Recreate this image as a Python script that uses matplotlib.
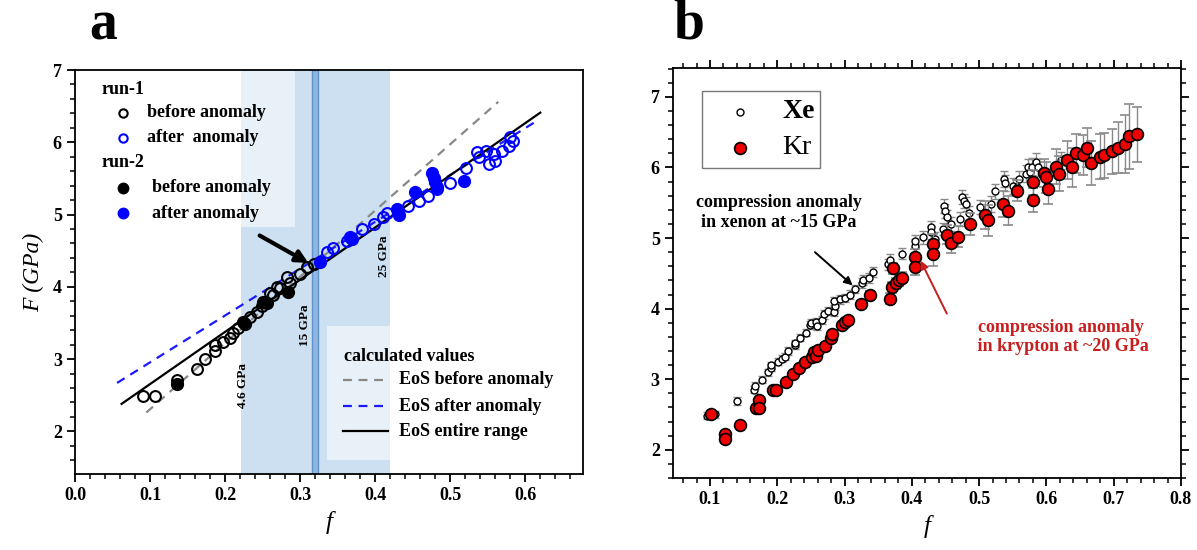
import matplotlib
matplotlib.use("Agg")
import matplotlib.pyplot as plt
from matplotlib.patches import Rectangle
from matplotlib.ticker import MultipleLocator

plt.rcParams['font.family'] = ['Liberation Serif', 'DejaVu Serif']
plt.rcParams['font.weight'] = 'bold'

# ---------------- panel a data ----------------
r1_before_f = [0.091, 0.107, 0.136, 0.162, 0.173, 0.187, 0.187, 0.197, 0.207, 0.211, 0.217,
               0.233, 0.242, 0.249, 0.260, 0.264, 0.269, 0.273, 0.282, 0.287, 0.300, 0.309, 0.318]
r1_before_F = [2.49, 2.49, 2.71, 2.86, 3.00, 3.11, 3.20, 3.24, 3.29, 3.36, 3.43,
               3.58, 3.65, 3.74, 3.91, 3.88, 4.00, 3.98, 4.13, 4.05, 4.18, 4.27, 4.32]
r1_after_f = [0.336, 0.344, 0.362, 0.382, 0.398, 0.410, 0.416, 0.444, 0.458, 0.471, 0.482,
              0.500, 0.521, 0.536, 0.538, 0.547, 0.551, 0.558, 0.560, 0.569, 0.578, 0.580, 0.584]
r1_after_F = [4.48, 4.54, 4.64, 4.80, 4.87, 4.96, 5.02, 5.12, 5.19, 5.26, 5.35,
              5.43, 5.65, 5.86, 5.79, 5.88, 5.70, 5.84, 5.74, 5.88, 5.95, 6.07, 6.02]
r2_before_f = [0.136, 0.224, 0.226, 0.251, 0.256, 0.284]
r2_before_F = [2.65, 3.51, 3.48, 3.79, 3.77, 3.93]
r2_after_f = [0.327, 0.367, 0.369, 0.429, 0.432, 0.453, 0.476, 0.478, 0.480, 0.482, 0.518]
r2_after_F = [4.34, 4.69, 4.66, 5.08, 4.99, 5.31, 5.58, 5.51, 5.45, 5.38, 5.47]

# EoS lines (end points)
eos_before_f = [0.095, 0.564]
eos_before_F = [2.26, 6.56]
eos_after_f = [0.056, 0.616]
eos_after_F = [2.67, 6.30]
eos_all_f = [0.062, 0.620]
eos_all_F = [2.38, 6.41]

span_range = [0.221, 0.420]
band_range = [0.316, 0.324]
pressure_f = [0.224, 0.307, 0.412]
pressure_F = [2.64, 3.47, 4.43]
pressure_labels = ['4.6 GPa', '15 GPa', '25 GPa']

# ---------------- panel b data ----------------
xe_f = [0.095, 0.108, 0.140, 0.165, 0.167, 0.177, 0.187, 0.190, 0.191, 0.201, 0.207, 0.211,
        0.216, 0.226, 0.227, 0.234, 0.242, 0.248, 0.250, 0.257, 0.259, 0.266, 0.269, 0.276,
        0.285, 0.286, 0.285, 0.293, 0.301, 0.308, 0.316, 0.326, 0.328, 0.336, 0.343, 0.364,
        0.368, 0.385, 0.404, 0.404, 0.417, 0.428, 0.429, 0.434, 0.447, 0.448, 0.450, 0.452,
        0.458, 0.471, 0.475, 0.477, 0.480, 0.485, 0.501, 0.518, 0.523, 0.537, 0.539, 0.550,
        0.559, 0.557, 0.569, 0.573, 0.575, 0.578, 0.584, 0.587, 0.622]
xe_F = [2.48, 2.50, 2.69, 2.85, 2.91, 2.99, 3.10, 3.16, 3.20, 3.25, 3.29, 3.32,
        3.40, 3.48, 3.51, 3.59, 3.66, 3.77, 3.79, 3.81, 3.76, 3.84, 3.92, 3.97,
        3.95, 4.04, 4.11, 4.13, 4.15, 4.20, 4.28, 4.36, 4.40, 4.44, 4.52, 4.63,
        4.69, 4.78, 4.89, 4.96, 5.01, 5.15, 5.08, 4.99, 5.13, 5.45, 5.38, 5.30,
        5.20, 5.27, 5.58, 5.53, 5.48, 5.35, 5.44, 5.48, 5.66, 5.84, 5.78, 5.74,
        5.84, 5.73, 5.91, 6.00, 5.93, 6.01, 6.08, 6.00, 6.10]
xe_err = [0.05, 0.05, 0.06, 0.05, 0.05, 0.05, 0.05, 0.05, 0.05, 0.05, 0.05, 0.05,
          0.05, 0.05, 0.05, 0.05, 0.05, 0.06, 0.06, 0.06, 0.06, 0.06, 0.06, 0.06,
          0.06, 0.06, 0.06, 0.06, 0.06, 0.06, 0.06, 0.07, 0.07, 0.07, 0.07, 0.08,
          0.08, 0.08, 0.09, 0.09, 0.09, 0.09, 0.09, 0.09, 0.09, 0.10, 0.10, 0.10,
          0.10, 0.10, 0.10, 0.10, 0.10, 0.10, 0.10, 0.11, 0.11, 0.11, 0.11, 0.11,
          0.11, 0.11, 0.12, 0.12, 0.12, 0.12, 0.12, 0.12, 0.12]

kr_f = [0.101, 0.122, 0.122, 0.145, 0.168, 0.173, 0.173, 0.193, 0.198, 0.213, 0.223, 0.233,
        0.241, 0.251, 0.254, 0.257, 0.260, 0.271, 0.280, 0.282, 0.296, 0.300, 0.305, 0.325,
        0.338, 0.368, 0.370, 0.372, 0.376, 0.381, 0.386, 0.405, 0.405, 0.432, 0.432, 0.452,
        0.458, 0.468, 0.487, 0.509, 0.513, 0.535, 0.543, 0.557, 0.580, 0.580, 0.596, 0.600,
        0.602, 0.615, 0.618, 0.631, 0.638, 0.644, 0.654, 0.660, 0.667, 0.679, 0.685, 0.697,
        0.707, 0.717, 0.723, 0.734]
kr_F = [2.51, 2.23, 2.15, 2.35, 2.59, 2.70, 2.59, 2.84, 2.85, 2.96, 3.08, 3.16,
        3.24, 3.32, 3.38, 3.33, 3.41, 3.47, 3.58, 3.64, 3.77, 3.81, 3.84, 4.06,
        4.20, 4.14, 4.30, 4.57, 4.36, 4.40, 4.44, 4.73, 4.59, 4.91, 4.78, 5.05,
        4.93, 5.02, 5.20, 5.33, 5.25, 5.48, 5.39, 5.67, 5.79, 5.54, 5.92, 5.86,
        5.70, 6.01, 5.91, 6.11, 6.00, 6.20, 6.18, 6.28, 6.06, 6.15, 6.17, 6.23,
        6.28, 6.33, 6.44, 6.47]
kr_err = [0.04, 0.04, 0.04, 0.04, 0.04, 0.04, 0.04, 0.04, 0.04, 0.04, 0.04, 0.04,
          0.04, 0.04, 0.04, 0.04, 0.04, 0.04, 0.04, 0.04, 0.04, 0.04, 0.04, 0.05,
          0.05, 0.08, 0.08, 0.08, 0.08, 0.08, 0.08, 0.12, 0.12, 0.15, 0.17, 0.14,
          0.14, 0.15, 0.16, 0.20, 0.22, 0.18, 0.20, 0.15, 0.18, 0.17, 0.20, 0.22,
          0.22, 0.25, 0.25, 0.27, 0.27, 0.28, 0.28, 0.28, 0.31, 0.32, 0.32, 0.32,
          0.36, 0.41, 0.46, 0.39]

RED = '#c81e1e'

fig = plt.figure(figsize=(11.97, 5.5), dpi=100)
ax_a = fig.add_axes([0.0627, 0.1382, 0.4244, 0.7345])
ax_b = fig.add_axes([0.5622, 0.1309, 0.4244, 0.7455])

# ================= panel a =================
ax = ax_a
ax.axvspan(span_range[0], span_range[1], color='#cde0f1', lw=0, zorder=0)
ax.axvspan(band_range[0], band_range[1], facecolor='#8fb5e0', edgecolor='#5f93cc', lw=1, zorder=1)

# legend backgrounds (semi-transparent white boxes)
ax.add_patch(Rectangle((0.02, 0.611), 0.413, 0.389, transform=ax.transAxes,
                       facecolor='white', alpha=0.55, lw=0, zorder=2))
ax.add_patch(Rectangle((0.496, 0.035), 0.47, 0.331, transform=ax.transAxes,
                       facecolor='white', alpha=0.55, lw=0, zorder=2))

ax.plot(eos_before_f, eos_before_F, color='#888888', ls=(0, (4, 3)), lw=1.6, zorder=3)
ax.plot(eos_after_f, eos_after_F, color='#1a1aff', ls=(0, (4, 3)), lw=1.6, zorder=3)
ax.plot(eos_all_f, eos_all_F, color='black', lw=1.6, zorder=3)

ax.plot(r1_before_f, r1_before_F, 'o', ms=7.8, mfc='none', mec='black', mew=1.5, zorder=4)
ax.plot(r1_after_f, r1_after_F, 'o', ms=7.8, mfc='none', mec='#0000ff', mew=1.5, zorder=4)
ax.plot(r2_before_f, r2_before_F, 'o', ms=8.5, color='black', zorder=5)
ax.plot(r2_after_f, r2_after_F, 'o', ms=8.5, color='#0000ff', zorder=5)

for pf, pF, lab in zip(pressure_f, pressure_F, pressure_labels):
    ax.text(pf, pF, lab, rotation=90, ha='center', va='center', fontsize=9.5,
            fontweight='bold', zorder=6)

ax.annotate('', xy=(0.311, 4.33), xytext=(0.246, 4.71),
            arrowprops=dict(arrowstyle='-|>', color='black', lw=3, mutation_scale=18,
                            shrinkA=0, shrinkB=0), zorder=6)

# legend run-1 / run-2
tr = ax.transAxes
ax.text(0.053, 0.953, 'run-1', transform=tr, fontsize=13, va='center', zorder=6)
ax.plot([0.0945], [0.894], 'o', transform=tr, ms=6, mfc='none', mec='black', mew=1.5, zorder=6)
ax.text(0.142, 0.894, 'before anomaly', transform=tr, fontsize=13, va='center', zorder=6)
ax.plot([0.0945], [0.832], 'o', transform=tr, ms=6, mfc='none', mec='#0000ff', mew=1.5, zorder=6)
ax.text(0.142, 0.832, 'after  anomaly', transform=tr, fontsize=13, va='center', zorder=6)
ax.text(0.053, 0.770, 'run-2', transform=tr, fontsize=13, va='center', zorder=6)
ax.plot([0.0945], [0.708], 'o', transform=tr, ms=7.5, color='black', zorder=6)
ax.text(0.152, 0.708, 'before anomaly', transform=tr, fontsize=13, va='center', zorder=6)
ax.plot([0.0945], [0.646], 'o', transform=tr, ms=7.5, color='#0000ff', zorder=6)
ax.text(0.152, 0.646, 'after anomaly', transform=tr, fontsize=13, va='center', zorder=6)

# legend calculated values
ax.text(0.53, 0.29, 'calculated values', transform=tr, fontsize=13, va='center', zorder=6)
ax.plot([0.528, 0.616], [0.233, 0.233], transform=tr, color='#888888', ls=(0, (4, 3)), lw=1.6, zorder=6)
ax.text(0.638, 0.233, 'EoS before anomaly', transform=tr, fontsize=13, va='center', zorder=6)
ax.plot([0.528, 0.616], [0.168, 0.168], transform=tr, color='#1a1aff', ls=(0, (4, 3)), lw=1.6, zorder=6)
ax.text(0.638, 0.168, 'EoS after anomaly', transform=tr, fontsize=13, va='center', zorder=6)
ax.plot([0.528, 0.616], [0.106, 0.106], transform=tr, color='black', lw=1.6, zorder=6)
ax.text(0.638, 0.106, 'EoS entire range', transform=tr, fontsize=13, va='center', zorder=6)

ax.set_xlim(0, 0.677)
ax.set_ylim(1.41, 7.0)
ax.xaxis.set_major_locator(MultipleLocator(0.1))
ax.xaxis.set_minor_locator(MultipleLocator(0.02))
ax.yaxis.set_major_locator(MultipleLocator(1))
ax.yaxis.set_minor_locator(MultipleLocator(0.2))
ax.set_xticks([0.0, 0.1, 0.2, 0.3, 0.4, 0.5, 0.6])
ax.set_xticklabels(['0.0', '0.1', '0.2', '0.3', '0.4', '0.5', '0.6'])
ax.tick_params(which='both', direction='out', labelsize=13)
ax.tick_params(which='major', length=6, width=1.3)
ax.tick_params(which='minor', length=3.5, width=1.1)
for s in ax.spines.values():
    s.set_linewidth(1.3)
ax.set_xlabel('f', fontsize=18, fontstyle='italic', labelpad=5)
ax.set_ylabel('F (GPa)', fontsize=17, fontstyle='italic', labelpad=6)

# ================= panel b =================
ax = ax_b
ax.errorbar(xe_f, xe_F, yerr=xe_err, fmt='o', ms=5, mfc='white', mec='black', mew=1.0,
            ecolor='#8a8a8a', elinewidth=1, capsize=3, capthick=1, zorder=3)
ax.errorbar(kr_f, kr_F, yerr=kr_err, fmt='o', ms=8.5, mfc='#ee0000', mec='black', mew=1.2,
            ecolor='#8a8a8a', elinewidth=1, capsize=3.5, capthick=1, zorder=4)

tr = ax.transAxes
ax.add_patch(Rectangle((0.057, 0.756), 0.232, 0.188, transform=tr, facecolor='white',
                       edgecolor='#777777', lw=1, zorder=5))
ax.plot([0.132], [0.893], 'o', transform=tr, ms=5, mfc='white', mec='black', mew=1.0, zorder=6)
ax.plot([0.132], [0.805], 'o', transform=tr, ms=8.5, mfc='#ee0000', mec='black', mew=1.2, zorder=6)
ax.text(0.215, 0.893, 'Xe', transform=tr, fontsize=20, fontweight='bold', va='center', zorder=6)
ax.text(0.215, 0.805, 'Kr', transform=tr, fontsize=20, fontweight='normal', va='center', zorder=6)

ax.text(0.202, 5.36, 'compression anomaly\nin xenon at ~15 GPa', ha='center', va='center',
        fontsize=13, linespacing=1.2, zorder=6)
ax.annotate('', xy=(0.312, 4.33), xytext=(0.256, 4.80),
            arrowprops=dict(arrowstyle='-|>', color='black', lw=1.4, mutation_scale=12,
                            shrinkA=0, shrinkB=0), zorder=6)
ax.text(0.621, 3.60, 'compression anomaly\n in krypton at ~20 GPa', ha='center', va='center',
        fontsize=13, linespacing=1.2, color=RED, zorder=6)
ax.annotate('', xy=(0.413, 4.68), xytext=(0.452, 3.93),
            arrowprops=dict(arrowstyle='-|>', color=RED, lw=1.4, mutation_scale=12,
                            shrinkA=0, shrinkB=0), zorder=6)

ax.set_xlim(0.045, 0.797)
ax.set_ylim(1.6, 7.41)
ax.xaxis.set_major_locator(MultipleLocator(0.1))
ax.xaxis.set_minor_locator(MultipleLocator(0.02))
ax.yaxis.set_major_locator(MultipleLocator(1))
ax.yaxis.set_minor_locator(MultipleLocator(0.2))
ax.set_xticks([0.1, 0.2, 0.3, 0.4, 0.5, 0.6, 0.7, 0.8])
ax.set_xticklabels(['0.1', '0.2', '0.3', '0.4', '0.5', '0.6', '0.7', '0.8'])
ax.tick_params(which='both', direction='out', top=True, right=True, labelsize=13)
ax.tick_params(which='major', length=6, width=1.3)
ax.tick_params(which='minor', length=3.5, width=1.1)
for s in ax.spines.values():
    s.set_linewidth(1.3)
ax.set_xlabel('f', fontsize=18, fontstyle='italic', labelpad=5)

fig.text(0.086, 0.953, 'a', fontsize=40, fontweight='bold', ha='center', va='center')
fig.text(0.575, 0.955, 'b', fontsize=40, fontweight='bold', ha='center', va='center')

fig.savefig('out.png', dpi=100)
